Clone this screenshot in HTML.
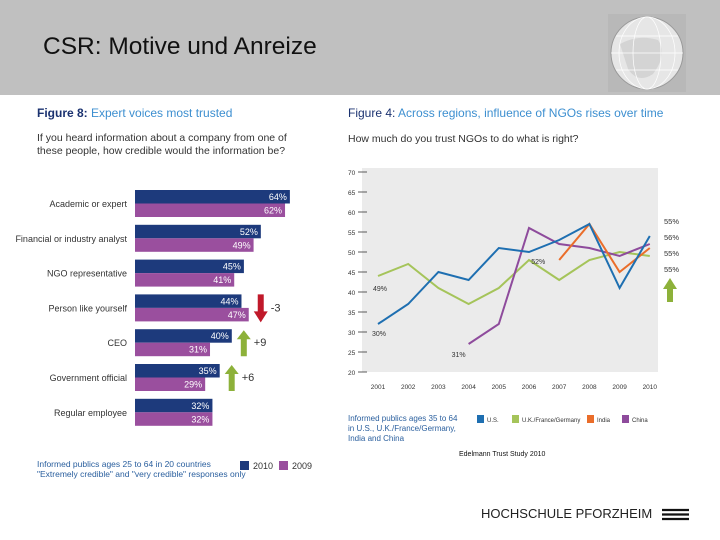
<!DOCTYPE html>
<html><head><meta charset="utf-8"><style>
body{margin:0;width:720px;height:540px;overflow:hidden;background:#fff;font-family:"Liberation Sans",sans-serif;position:relative}
.t{position:absolute;white-space:nowrap}
</style></head><body>
<div style="position:absolute;left:0;top:0;width:720px;height:95px;background:#c0c0c0"></div>
<div class="t" style="left:43px;top:33px;font-size:24.5px;color:#111">CSR: Motive und Anreize</div>
<svg style="position:absolute;left:608px;top:14px" width="78" height="78">
<rect x="0" y="0" width="78" height="78" fill="#b8b8b8"/>
<circle cx="39" cy="39" r="36" fill="#e6e6e6" stroke="#999"/>
<path d="M12 30 Q30 20 50 26 Q60 40 45 60 Q30 70 20 55Z" fill="#d4d4d4"/>
<g stroke="#fff" fill="none" stroke-width="0.7"><ellipse cx="39" cy="39" rx="14" ry="36"/><ellipse cx="39" cy="39" rx="28" ry="36"/><line x1="3" y1="39" x2="75" y2="39"/><line x1="8" y1="22" x2="70" y2="22"/><line x1="8" y1="56" x2="70" y2="56"/></g>
</svg>

<div class="t" style="left:37px;top:106px;font-size:12px;color:#3d8fd0"><b style="color:#1b3270">Figure 8:</b> Expert voices most trusted</div>
<div class="t" style="left:37px;top:132px;font-size:10.5px;line-height:13px;color:#333">If you heard information about a company from one of<br>these people, how credible would the information be?</div>
<svg id="bars" style="position:absolute;left:0;top:0" width="340" height="490"></svg>
<div class="t" style="left:37px;top:459px;font-size:8.5px;line-height:10px;color:#2a5f9e">Informed publics ages 25 to 64 in 20 countries<br>"Extremely credible" and "very credible" responses only</div>

<div class="t" style="left:348px;top:106px;font-size:12px;color:#3d8fd0"><b style="color:#1b3270;font-weight:normal">Figure 4:</b> Across regions, influence of NGOs rises over time</div>
<div class="t" style="left:348px;top:133px;font-size:10.5px;color:#333">How much do you trust NGOs to do what is right?</div>
<svg id="lines" style="position:absolute;left:0;top:0" width="720" height="470"></svg>
<div class="t" style="left:348px;top:414px;font-size:8px;line-height:10px;color:#2a5f9e">Informed publics ages 35 to 64<br>in U.S., U.K./France/Germany,<br>India and China</div>
<div class="t" style="left:459px;top:451px;font-size:7px;color:#111">Edelmann Trust Study 2010</div>
<div class="t" style="left:481px;top:506px;font-size:13px;color:#222">HOCHSCHULE PFORZHEIM</div>
<svg style="position:absolute;left:662px;top:508px" width="27" height="13"><g stroke="#111" stroke-width="2.2"><line x1="0" y1="2" x2="27" y2="2"/><line x1="0" y1="6.5" x2="27" y2="6.5"/><line x1="0" y1="11" x2="27" y2="11"/></g></svg>

<script>
const NS='http://www.w3.org/2000/svg';
function mk(p,tag,a,txt){const e=document.createElementNS(NS,tag);for(const k in a)e.setAttribute(k,a[k]);if(txt!=null)e.textContent=txt;p.appendChild(e);return e;}
const barCategories=['Academic or expert','Financial or industry analyst','NGO representative','Person like yourself','CEO','Government official','Regular employee'];
const values2010=[64,52,45,44,40,35,32];
const values2009=[62,49,41,47,31,29,32];
const changeLabels=['','','','-3','+9','+6',''];
const bs=document.getElementById('bars');
const x0=135,pxPer=2.42,gy0=190,gstep=34.8,bh=13.5;
const bx=v=>x0+v*pxPer;
barCategories.forEach((c,i)=>{
  const y=gy0+i*gstep;
  let t=mk(bs,'text',{x:127,y:y+17,'text-anchor':'end','font-size':9,fill:'#333'},c);
  
  let r=mk(bs,'rect',{x:x0,y:y,width:bx(values2010[i])-x0,height:bh,fill:'#1d3a7c'});
  
  t=mk(bs,'text',{x:bx(values2010[i])-3,y:y+10,'text-anchor':'end','font-size':9,fill:'#fff'},values2010[i]+'%');
  
  r=mk(bs,'rect',{x:x0,y:y+bh,width:bx(values2009[i])-x0,height:bh,fill:'#9a4f9e'});
  
  t=mk(bs,'text',{x:bx(values2009[i])-3,y:y+bh+10,'text-anchor':'end','font-size':9,fill:'#fff'},values2009[i]+'%');
  
  if(changeLabels[i]){
    const up=changeLabels[i][0]==='+';
    const ax=Math.max(bx(values2010[i]),bx(values2009[i]))+12;
    const col=up?'#8db13a':'#c0192a';
    let a;
    if(up) a=mk(bs,'path',{d:`M${ax-3} ${y+27} L${ax-3} ${y+10} L${ax-7} ${y+10} L${ax} ${y+1} L${ax+7} ${y+10} L${ax+3} ${y+10} L${ax+3} ${y+27}Z`,fill:col});
    else a=mk(bs,'path',{d:`M${ax-3} ${y} L${ax-3} ${y+17} L${ax-7} ${y+17} L${ax} ${y+28} L${ax+7} ${y+17} L${ax+3} ${y+17} L${ax+3} ${y}Z`,fill:col});
    
    t=mk(bs,'text',{x:ax+10,y:y+17,'font-size':11,fill:'#333'},changeLabels[i]);
    
  }
});
let lg=mk(bs,'rect',{x:240,y:461,width:9,height:9,fill:'#1d3a7c'});
lg=mk(bs,'text',{x:253,y:469,'font-size':9,fill:'#333'},'2010');
lg=mk(bs,'rect',{x:279,y:461,width:9,height:9,fill:'#9a4f9e'});
lg=mk(bs,'text',{x:292,y:469,'font-size':9,fill:'#333'},'2009');

const years=['2001','2002','2003','2004','2005','2006','2007','2008','2009','2010'];
const yTicks=[70,65,60,55,50,45,40,35,30,25,20];
const usValues=[32,37,45,43,51,50,53,57,41,54];
const ukValues=[44,47,41,37,41,48,43,48,50,49];
const indiaValues=[null,null,null,null,null,null,48,57,45,51];
const chinaValues=[null,null,null,27,32,56,52,51,49,52];
const endLabels=['55%','56%','55%','55%'];
const ls=document.getElementById('lines');
const px0=378,pstep=30.2;
const xs=i=>px0+i*pstep;
const ys=v=>372-(v-20)*4;
let bg=mk(ls,'rect',{x:362,y:ys(70)-4,width:296,height:ys(20)-ys(70)+4,fill:'#ebebeb'});

yTicks.forEach(v=>{
  let t=mk(ls,'text',{x:348,y:ys(v)+3,'font-size':6.5,fill:'#333'},v);
  
  let l=mk(ls,'line',{x1:358,x2:367,y1:ys(v),y2:ys(v),stroke:'#333','stroke-width':0.8});
  
});
years.forEach((y,i)=>{
  let t=mk(ls,'text',{x:xs(i),y:389,'font-size':6.5,'text-anchor':'middle',fill:'#333'},y);
  
});
function series(vals,col,name){
  let d='';vals.forEach((v,i)=>{if(v==null)return;d+=(d?'L':'M')+xs(i)+' '+ys(v)+' ';});
  const p=mk(ls,'path',{d:d,fill:'none',stroke:col,'stroke-width':2});
  
}
series(ukValues,'#a5c45a','line-uk-france-germany');
series(chinaValues,'#8e4b9c','line-china');
series(indiaValues,'#ea6d2a','line-india');
series(usValues,'#1e6fb1','line-us');
const ann=[['49%',xs(0)-5,ys(ukValues[0])+15],['30%',xs(0)-6,ys(usValues[0])+12],['31%',xs(3)-17,ys(chinaValues[3])+13],['52%',xs(6)-28,ys(indiaValues[6])+4]];
ann.forEach(a=>{let t=mk(ls,'text',{x:a[1],y:a[2],'font-size':7,fill:'#333'},a[0]);});
endLabels.forEach((l,i)=>{let t=mk(ls,'text',{x:664,y:224+i*16,'font-size':7.5,fill:'#333'},l);});
let ar=mk(ls,'path',{d:'M667 302 L667 289 L663 289 L670 278 L677 289 L673 289 L673 302Z',fill:'#8db13a'});

const legendItems=[['U.S.','#1e6fb1',477],['U.K./France/Germany','#a5c45a',512],['India','#ea6d2a',587],['China','#8e4b9c',622]];
legendItems.forEach(l=>{
  let r=mk(ls,'rect',{x:l[2],y:415,width:7,height:8,fill:l[1]});
  let t=mk(ls,'text',{x:l[2]+10,y:422,'font-size':6,fill:'#333'},l[0]);
});
</script>
</body></html>
